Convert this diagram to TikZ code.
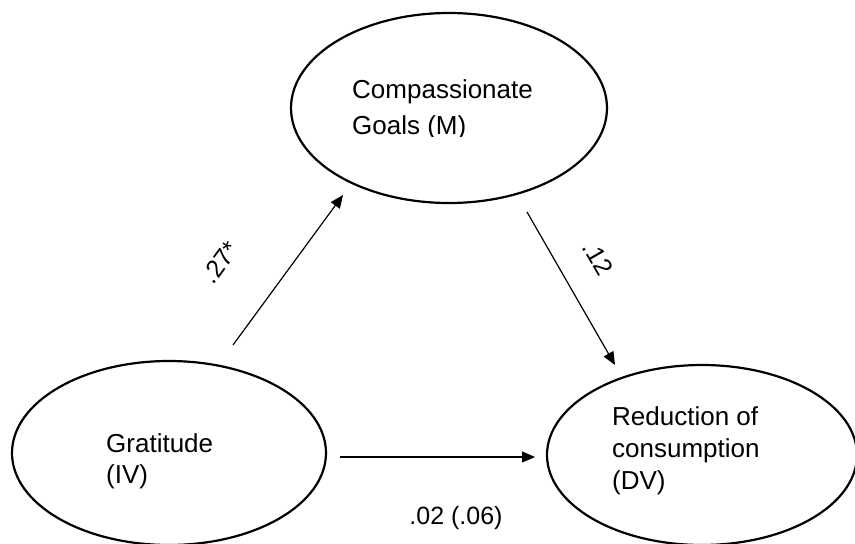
\documentclass[tikz,border=0pt]{standalone}
\usepackage{fontspec}
\setmainfont{Liberation Sans}
\usetikzlibrary{shapes.geometric,arrows.meta}
\begin{document}
\begin{tikzpicture}[x=1pt,y=-1pt,
  var/.style={ellipse,draw=black,line width=2.2pt,inner sep=0pt},
  lbl/.style={font=\fontsize{26}{32}\selectfont,inner sep=0pt,align=left},
  path/.style={line width=1.2pt,-{Triangle[length=13pt,width=11pt]}},
  coef/.style={font=\fontsize{25}{30}\selectfont,inner sep=0pt}]
\useasboundingbox[fill=white] (0,0) rectangle (855,544);
\node[var,minimum width=316pt,minimum height=190pt] (m) at (449,108) {};
\node[var,minimum width=314pt,minimum height=184pt] (iv) at (169,453) {};
\node[var,minimum width=310pt,minimum height=180pt] (dv) at (702,455) {};
\node[lbl,anchor=base west] (mt1) at (352,98) {Compassionate};
\begin{scope}
\clip (300,100) rectangle (600,136);
\node[lbl,anchor=base west] (mt2) at (352,134) {Goals (M)};
\end{scope}
\node[lbl,anchor=base west] (ivt1) at (106,452) {Gratitude};
\node[lbl,anchor=base west] (ivt2) at (106,483) {(IV)};
\node[lbl,anchor=base west] (dvt1) at (612,425) {Reduction of};
\node[lbl,anchor=base west] (dvt2) at (612,457) {consumption};
\node[lbl,anchor=base west] (dvt3) at (612,489) {(DV)};
\coordinate (a1s) at (233,345);
\coordinate (a1e) at (343,195);
\coordinate (a2s) at (527,212);
\coordinate (a2e) at (615,365);
\coordinate (a3s) at (340,457);
\coordinate (a3e) at (535,457);
\draw[path] (a1s) -- (a1e);
\draw[path] (a2s) -- (a2e);
\draw[path] (a3s) -- (a3e);
\node[coef,rotate=54] (c1) at (220,262) {.27*};
\node[coef,rotate=-60] (c2) at (598,258) {.12};
\node[coef] (c3) at (456,518) {.02 (.06)};
\end{tikzpicture}
\end{document}
